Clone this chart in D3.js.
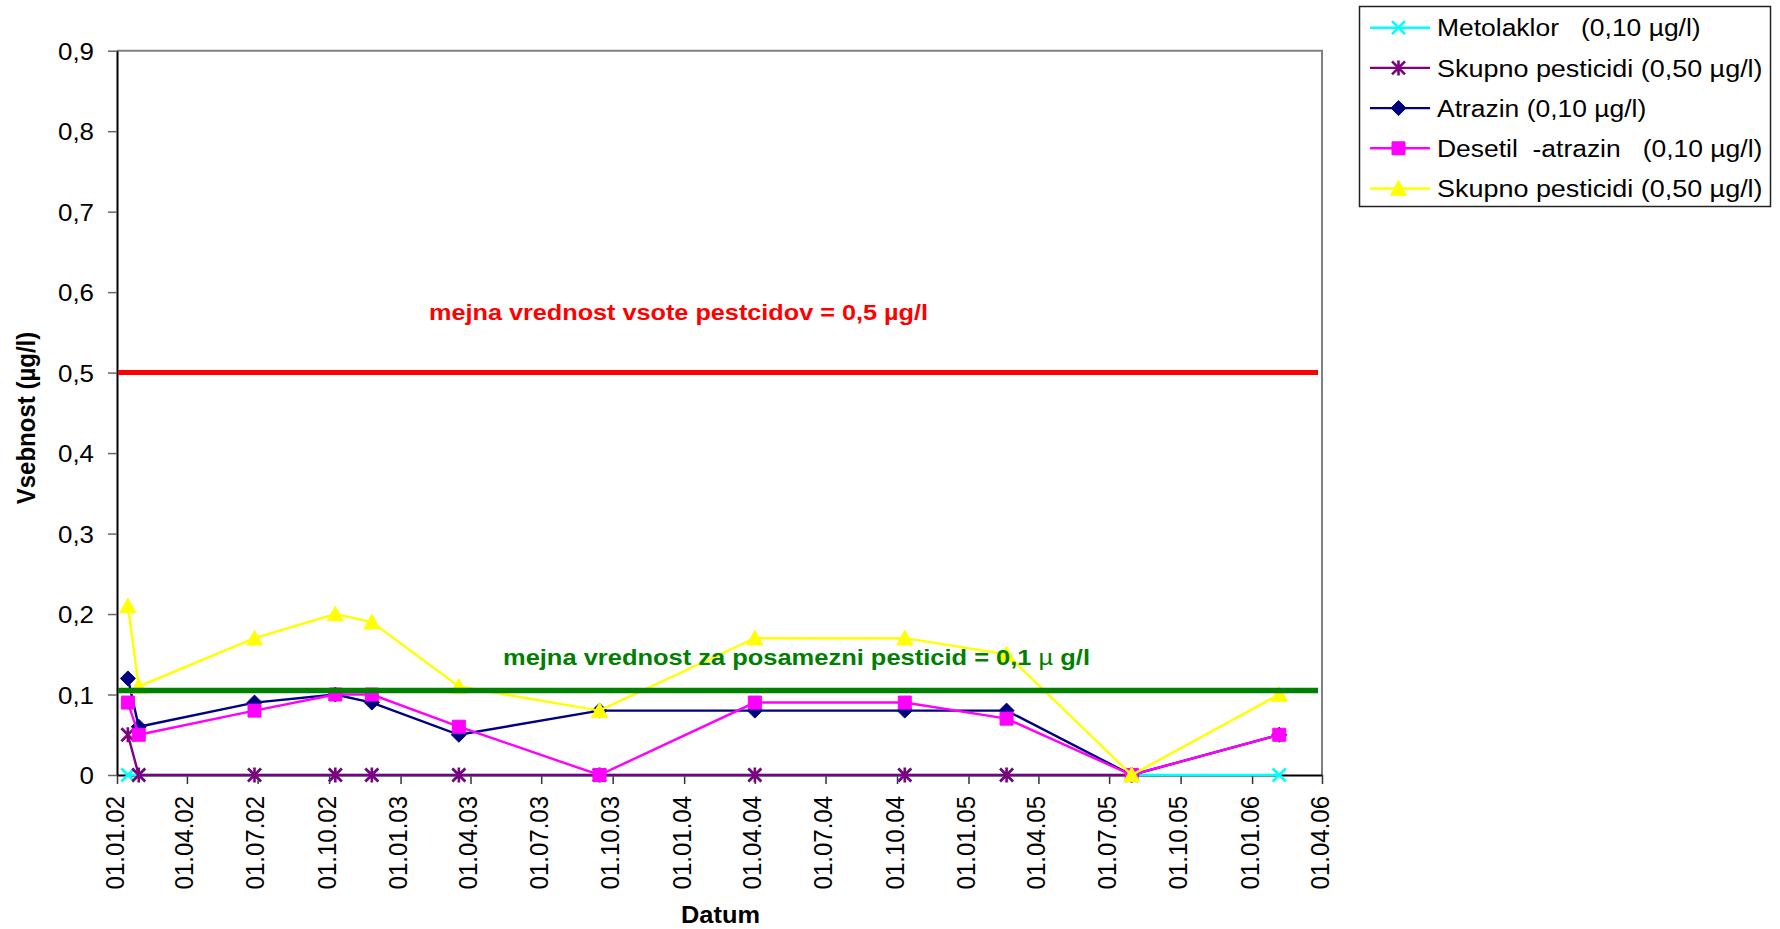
<!DOCTYPE html>
<html>
<head>
<meta charset="utf-8">
<script src="https://cdn.jsdelivr.net/npm/d3@7"></script>
<style>
  html, body { margin: 0; padding: 0; background: #fff; }
  svg { display: block; font-family: "Liberation Sans", Arial, sans-serif; }
  text { white-space: pre; }
</style>
</head>
<body>
<svg id="chart" width="1780" height="929"></svg>
<script>
// Sampling dates (dd.mm.yy on the axis)
const sampleDates = [
  "2002-01-15", "2002-01-29", "2002-06-27", "2002-10-09", "2002-11-25", "2003-03-17",
  "2003-09-14", "2004-04-01", "2004-10-11", "2005-02-19", "2005-07-30", "2006-02-05"
];

// Measured concentrations, µg/l (null = not measured)
const metolaklor   = [0, 0, 0, 0, 0, 0, 0, 0, 0, 0, 0, 0];
const skupnoA      = [0.05, 0, 0, 0, 0, 0, 0, 0, 0, 0, 0, null];
const atrazin      = [0.12, 0.06, 0.09, 0.10, 0.09, 0.05, 0.08, 0.08, 0.08, 0.08, 0, 0.05];
const desetil      = [0.09, 0.05, 0.08, 0.10, 0.10, 0.06, 0, 0.09, 0.09, 0.07, 0, 0.05];
const skupnoB      = [0.21, 0.11, 0.17, 0.20, 0.19, 0.11, 0.08, 0.17, 0.17, 0.15, 0, 0.10];

const seriesNames = [
  "Metolaklor   (0,10 µg/l)",
  "Skupno pesticidi (0,50 µg/l)",
  "Atrazin (0,10 µg/l)",
  "Desetil  -atrazin   (0,10 µg/l)",
  "Skupno pesticidi (0,50 µg/l)"
];

// Limit values
const limitSum = 0.5;
const limitSingle = 0.105;
const limitSumLabel = "mejna vrednost vsote pestcidov = 0,5 µg/l";
const limitSingleLabel = "mejna vrednost za posamezni pesticid = 0,1";

// Axis ticks
const yTicks = [0, 0.1, 0.2, 0.3, 0.4, 0.5, 0.6, 0.7, 0.8, 0.9];
const xStart = "2002-01-01", xEnd = "2006-04-01";

// ---- drawing ----
const svg = d3.select("#chart");
const parse = d3.utcParse("%Y-%m-%d");
const dates = sampleDates.map(parse);

const plot = { left: 117, right: 1322, top: 50.7, bottom: 775 };
const SX = 1.08; // horizontal glyph stretch

const x = d3.scaleUtc().domain([parse(xStart), parse(xEnd)]).range([plot.left, plot.right]);
const y = d3.scaleLinear().domain([0, 0.9]).range([plot.bottom, plot.top]);

const fmtY = v => v === 0 ? "0" : d3.format(".1f")(v).replace(".", ",");
const fmtX = d3.utcFormat("%d.%m.%y");

// plot frame (top and right edges)
svg.append("path")
  .attr("d", `M${plot.left},${plot.top}H${plot.right}V${plot.bottom}`)
  .attr("fill", "none").attr("stroke", "#808080").attr("stroke-width", 2);

// y axis
const yAxis = svg.append("g")
  .attr("transform", `translate(${plot.left},0)`)
  .call(d3.axisLeft(y).tickValues(yTicks).tickFormat(fmtY).tickSize(9).tickSizeOuter(0));
yAxis.select(".domain").attr("stroke", "#000").attr("stroke-width", 2);
yAxis.selectAll(".tick line").attr("stroke", "#666").attr("stroke-width", 1.5);
yAxis.selectAll(".tick text")
  .attr("x", null).attr("dy", null)
  .attr("font-size", 24).attr("fill", "#000")
  .attr("font-family", "Liberation Sans, Arial, sans-serif")
  .attr("text-anchor", "end")
  .attr("transform", `translate(-23,8.5) scale(${SX},1)`);

// x axis
const xTickDates = d3.utcMonth.every(3).range(parse(xStart), d3.utcDay.offset(parse(xEnd), 1));
const xAxis = svg.append("g")
  .attr("transform", `translate(0,${plot.bottom})`)
  .call(d3.axisBottom(x).tickValues(xTickDates).tickFormat(fmtX).tickSize(9).tickSizeOuter(0));
xAxis.select(".domain").attr("stroke", "#000").attr("stroke-width", 2);
xAxis.selectAll(".tick line").attr("stroke", "#333").attr("stroke-width", 1.5);
xAxis.selectAll(".tick text")
  .attr("y", null).attr("dy", null)
  .attr("font-size", 24).attr("fill", "#000")
  .attr("font-family", "Liberation Sans, Arial, sans-serif")
  .attr("text-anchor", "end")
  .attr("transform", `translate(6,21) scale(${SX},1) rotate(-90)`);

// axis titles
svg.append("text")
  .attr("transform", `translate(720.5,923) scale(${SX},1)`)
  .attr("text-anchor", "middle").attr("font-weight", "bold").attr("font-size", 23.5)
  .text("Datum");
svg.append("text")
  .attr("transform", `translate(35,418) scale(${SX},1) rotate(-90)`)
  .attr("text-anchor", "middle").attr("font-weight", "bold").attr("font-size", 24)
  .text("Vsebnost (µg/l)");

// marker shapes
const markers = {
  cross: s => `M${-s},${-s}L${s},${s}M${-s},${s}L${s},${-s}`,
  star: s => `M${-s},${-s}L${s},${s}M${-s},${s}L${s},${-s}M0,${-s * 1.15}L0,${s * 1.15}`,
  diamond: s => `M0,${-s}L${s},0L0,${s}L${-s},0Z`,
  square: s => `M${-s},${-s}H${s}V${s}H${-s}Z`,
  triangle: s => `M0,${-s}L${s},${s * 0.85}L${-s},${s * 0.85}Z`
};

const series = [
  { name: seriesNames[0], values: metolaklor, color: "#00FFFF", marker: "cross", size: 6.5, filled: false },
  { name: seriesNames[1], values: skupnoA, color: "#800080", marker: "star", size: 6.5, filled: false },
  { name: seriesNames[2], values: atrazin, color: "#000080", marker: "diamond", size: 7.5, filled: true },
  { name: seriesNames[3], values: desetil, color: "#FF00FF", marker: "square", size: 6.5, filled: true },
  { name: seriesNames[4], values: skupnoB, color: "#FFFF00", marker: "triangle", size: 8, filled: true }
];

const line = d3.line()
  .defined(d => d.v !== null)
  .x(d => x(d.date))
  .y(d => y(d.v));

function drawMarker(g, s, cx, cy) {
  g.append("path")
    .attr("transform", `translate(${cx},${cy})`)
    .attr("d", markers[s.marker](s.size))
    .attr("fill", s.filled ? s.color : "none")
    .attr("stroke", s.color)
    .attr("stroke-width", s.filled ? 1 : 2.6);
}

const dataLayer = svg.append("g");
series.forEach(s => {
  const pts = dates.map((date, i) => ({ date, v: s.values[i] }));
  const g = dataLayer.append("g");
  g.append("path")
    .attr("d", line(pts))
    .attr("fill", "none")
    .attr("stroke", s.color)
    .attr("stroke-width", 2.4);
  pts.filter(p => p.v !== null).forEach(p => drawMarker(g, s, x(p.date), y(p.v)));
});

// limit lines
svg.append("line")
  .attr("x1", plot.left + 1).attr("x2", plot.right - 4)
  .attr("y1", y(limitSum)).attr("y2", y(limitSum))
  .attr("stroke", "#FF0000").attr("stroke-width", 5);
svg.append("line")
  .attr("x1", plot.left + 1).attr("x2", plot.right - 4)
  .attr("y1", y(limitSingle)).attr("y2", y(limitSingle))
  .attr("stroke", "#008000").attr("stroke-width", 5.5);

// limit labels
svg.append("text")
  .attr("x", 429).attr("y", 319.5)
  .attr("font-size", 22).attr("font-weight", "bold").attr("fill", "#FF0000")
  .attr("textLength", 499).attr("lengthAdjust", "spacingAndGlyphs")
  .text(limitSumLabel);
const greenLabel = svg.append("text")
  .attr("x", 503).attr("y", 665)
  .attr("font-size", 22).attr("font-weight", "bold").attr("fill", "#008000")
  .attr("textLength", 587).attr("lengthAdjust", "spacingAndGlyphs");
greenLabel.append("tspan").text(limitSingleLabel);
greenLabel.append("tspan").attr("font-weight", "normal").text(" µ ");
greenLabel.append("tspan").text("g/l");

// legend
const legend = svg.append("g");
legend.append("rect")
  .attr("x", 1359.5).attr("y", 6.5).attr("width", 411).attr("height", 200)
  .attr("fill", "#fff").attr("stroke", "#222").attr("stroke-width", 1.5);
series.forEach((s, i) => {
  const cy = 27.7 + i * 40.2;
  const g = legend.append("g");
  g.append("line")
    .attr("x1", 1370).attr("x2", 1430).attr("y1", cy).attr("y2", cy)
    .attr("stroke", s.color).attr("stroke-width", 2.4);
  drawMarker(g, s, 1398.5, cy);
  g.append("text")
    .attr("transform", `translate(1437,${cy + 8.6}) scale(${i === 1 || i === 4 ? 1.1 : SX},1)`)
    .attr("font-size", 24.5).attr("fill", "#000")
    .text(s.name);
});
</script>
</body>
</html>
